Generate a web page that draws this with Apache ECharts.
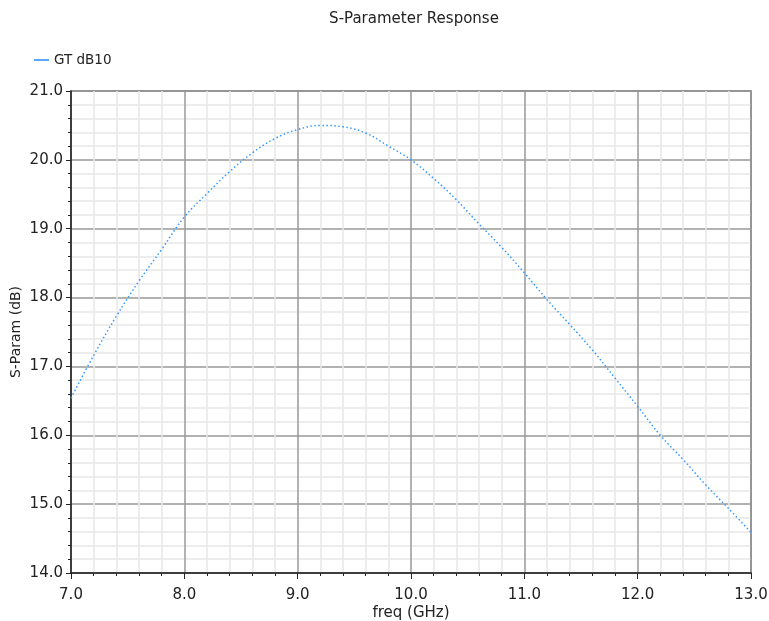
<!DOCTYPE html>
<html>
<head>
<meta charset="utf-8">
<title>S-Parameter Response</title>
<script src="https://cdn.jsdelivr.net/npm/echarts@6/dist/echarts.min.js"></script>
<style>
  html, body { margin: 0; padding: 0; background: #ffffff; }
  #chart { width: 769px; height: 621px; }
</style>
</head>
<body>
<div id="chart"></div>
<script>
// Frequency sweep (GHz) and transducer gain GT in dB
const freqGHz = [7.0, 7.2, 7.4, 7.6, 7.8, 8.0, 8.2, 8.4, 8.6, 8.8, 9.0, 9.2, 9.4, 9.6, 9.8, 10.0,
                 10.2, 10.4, 10.6, 10.8, 11.0, 11.2, 11.4, 11.6, 11.8, 12.0, 12.2, 12.4, 12.6, 12.8, 13.0];
const gtDB10 = [16.54, 17.16, 17.73, 18.24, 18.70, 19.17, 19.51, 19.83, 20.10, 20.31, 20.44, 20.50,
                20.48, 20.39, 20.20, 20.00, 19.73, 19.42, 19.07, 18.73, 18.36, 17.97, 17.61, 17.24,
                16.83, 16.42, 16.00, 15.65, 15.28, 14.94, 14.59];
const seriesName = 'GT dB10';
const xTicks = { min: 7, max: 13, step: 1 };
const yTicks = { min: 14, max: 21, step: 1 };

const fontFamily = '"DejaVu Sans", sans-serif';
const textColor = '#222';
const chart = echarts.init(document.getElementById('chart'), null, { renderer: 'canvas' });

const points = freqGHz.map((f, i) => [f, gtDB10[i]]);

chart.setOption({
  animation: false,
  backgroundColor: '#ffffff',
  title: {
    text: 'S-Parameter Response',
    left: 409,
    textAlign: 'center',
    top: 7,
    textStyle: { fontFamily, fontSize: 15, fontWeight: 'normal', color: textColor }
  },
  legend: {
    left: 29,
    top: 48,
    icon: 'rect',
    itemWidth: 15,
    itemHeight: 2,
    itemGap: 10,
    itemStyle: { color: '#5aaaff' },
    textStyle: { fontFamily, fontSize: 13.5, color: textColor },
    data: [seriesName]
  },
  grid: {
    left: 71, right: 18, top: 91, bottom: 48,
    outerBoundsMode: 'none',
    containLabel: false,
    show: true, borderColor: '#666', borderWidth: 1.5, backgroundColor: 'transparent'
  },
  xAxis: {
    type: 'value',
    min: xTicks.min, max: xTicks.max, interval: xTicks.step,
    name: 'freq (GHz)', nameLocation: 'middle', nameGap: 33,
    nameMoveOverlap: false,
    nameTextStyle: { fontFamily, fontSize: 15, color: textColor },
    axisLine: { show: true, onZero: false, lineStyle: { color: '#222', width: 1.5 } },
    axisTick: { show: true, inside: false, length: 6, lineStyle: { color: '#222' } },
    minorTick: { show: true, splitNumber: 5, length: 3, lineStyle: { color: '#222' } },
    axisLabel: { fontFamily, fontSize: 15, color: textColor, margin: 15,
                 formatter: v => v.toFixed(1) },
    splitLine: { show: true, lineStyle: { color: '#999', width: 1.5 } },
    minorSplitLine: { show: true, lineStyle: { color: '#e8e8e8', width: 1.5 } }
  },
  yAxis: {
    type: 'value',
    min: yTicks.min, max: yTicks.max, interval: yTicks.step,
    name: 'S-Param (dB)', nameLocation: 'middle', nameGap: 48, nameRotate: 90,
    nameMoveOverlap: false,
    nameTextStyle: { fontFamily, fontSize: 14, color: textColor },
    axisLine: { show: true, onZero: false, lineStyle: { color: '#222', width: 1.5 } },
    axisTick: { show: true, inside: false, length: 5, lineStyle: { color: '#222' } },
    minorTick: { show: true, splitNumber: 5, length: 3, lineStyle: { color: '#222' } },
    axisLabel: { fontFamily, fontSize: 15, color: textColor, margin: 8,
                 formatter: v => v.toFixed(1) },
    splitLine: { show: true, lineStyle: { color: '#999', width: 1.5 } },
    minorSplitLine: { show: true, lineStyle: { color: '#e8e8e8', width: 1.5 } }
  },
  series: [{
    name: seriesName,
    type: 'line',
    data: points,
    smooth: 0.4,
    showSymbol: false,
    itemStyle: { color: '#3399ff' },
    lineStyle: { color: '#3399ff', width: 1.5, type: [1.5, 2.5] }
  }]
});
</script>
</body>
</html>
